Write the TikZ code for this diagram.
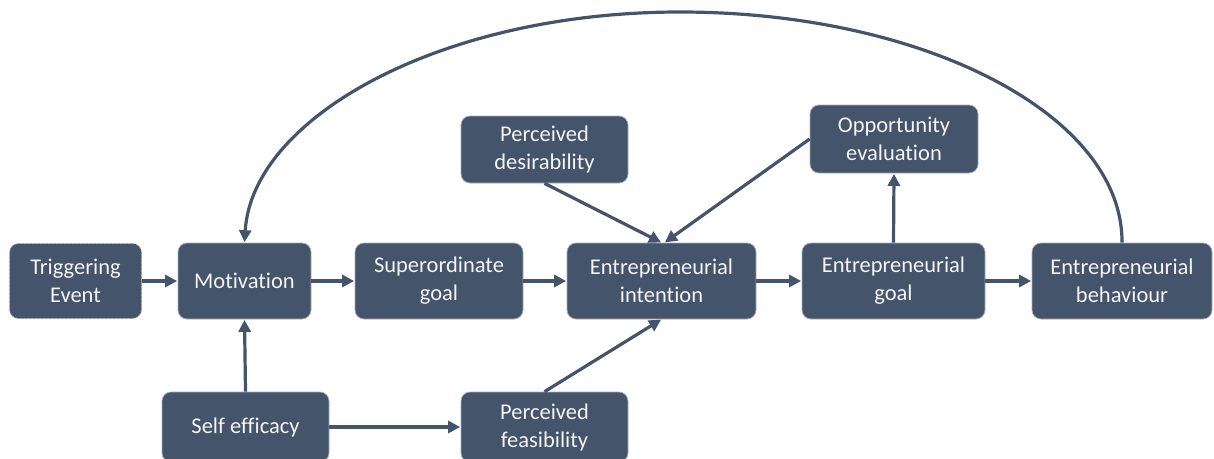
\documentclass[tikz,border=0pt]{standalone}
\usepackage{fontspec}
\setmainfont[Ligatures=NoCommon]{Carlito}
\usetikzlibrary{arrows.meta}
\definecolor{boxfill}{HTML}{44546A}
\definecolor{boxline}{HTML}{A6AEBA}
\definecolor{boxtext}{HTML}{F4F4F4}
\begin{document}
\begin{tikzpicture}[x=1pt,y=-1pt,
  box/.style={rectangle, rounded corners=9pt, fill=boxfill, draw=boxline, line width=0.7pt,
    text=boxtext, align=center, inner sep=0pt,
    font=\fontsize{22.5pt}{28pt}\selectfont},
  trigbox/.style={box, dash pattern=on 2.5pt off 1.5pt},
  conn/.style={draw=boxfill, line width=3.2pt, -{Triangle[length=12pt,width=12pt]}, shorten >=0.5pt}]
\useasboundingbox (0,0) rectangle (1214,458);

% boxes (centre, size)
\node[trigbox, minimum width=132pt, minimum height=75pt] (te) at (75.5,281) {Triggering\\Event};
\node[box, minimum width=133pt, minimum height=76pt] (mo) at (244.5,281) {Motivation};
\node[box, minimum width=168pt, minimum height=76pt] (sg) at (439,281) {Superordinate\\goal};
\node[box, minimum width=189pt, minimum height=76pt] (ei) at (661.5,281) {Entrepreneurial\\intention};
\node[box, minimum width=183pt, minimum height=76pt] (eg) at (893.5,281) {Entrepreneurial\\goal};
\node[box, minimum width=180pt, minimum height=76pt] (eb) at (1122,281) {Entrepreneurial\\behaviour};
\node[box, minimum width=168pt, minimum height=68pt] (oe) at (894,139) {Opportunity\\evaluation};
\node[box, minimum width=167pt, minimum height=67pt] (pd) at (544.5,149.5) {Perceived\\desirability};
\node[box, minimum width=167pt, minimum height=70pt] (se) at (245.5,427) {Self efficacy};
\node[box, minimum width=167pt, minimum height=70pt] (pf) at (544.5,427) {Perceived\\feasibility};

% main chain
\draw[conn] (te) -- (mo);
\draw[conn] (mo) -- (sg);
\draw[conn] (sg) -- (ei);
\draw[conn] (ei) -- (eg);
\draw[conn] (eg) -- (eb);

% inputs and feedback
\draw[conn] (se.north) -- (mo.south);
\draw[conn] (se.east) -- (pf.west);
\draw[conn] (pf.north) -- (ei.south);
\draw[conn] (pd.south) -- (ei.north);
\draw[conn] (oe.west) -- ([xshift=3pt]ei.north);
\draw[conn] (eg.north) -- (oe.south);

% feedback arc from behaviour back to motivation
\coordinate (apex) at (680,12);
\draw[conn] (eb.north) .. controls (1123,115) and (924,12) .. (apex)
  .. controls (440,12) and (252,118) .. (mo.north);
\end{tikzpicture}
\end{document}
